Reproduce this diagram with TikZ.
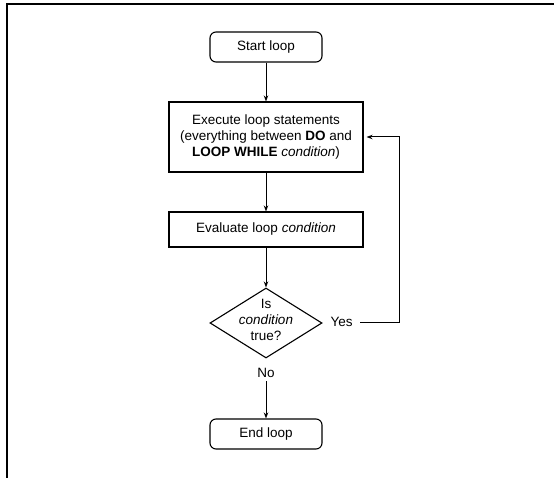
\documentclass[tikz,border=0pt]{standalone}
\usepackage{fontspec}
\setmainfont{Liberation Sans}
\usetikzlibrary{arrows.meta,shapes.geometric,positioning}

\begin{document}
\begin{tikzpicture}[x=1pt,y=-1pt,
  font=\fontsize{13.5}{15.8}\selectfont,
  terminal/.style={draw, line width=1.1pt, rounded corners=6pt, minimum width=112pt, minimum height=30pt, inner sep=0pt},
  process/.style={draw, line width=1.1pt, minimum width=194pt, inner sep=0pt, align=center},
  decision/.style={draw, diamond, line width=1.1pt, minimum width=112pt, minimum height=70pt, inner sep=0pt},
  flow/.style={-{Stealth[length=6pt,width=4.5pt]}, line width=1pt}]
\useasboundingbox (0,0) rectangle (554,478);
% frame
\draw[line width=1.5pt] (7,478) -- (7,4) -- (554,4);
% boxes
\node[terminal] (start) at (266,47) {Start loop};
\node[process, minimum height=70pt] (exec) at (266,137) {Execute loop statements\\(everything between \textbf{DO} and\\\textbf{LOOP WHILE} \textit{condition})};
\node[process, minimum height=35pt] (eval) at (266,229.5) {Evaluate loop \textit{condition}};
\node[decision] (test) at (266,323) {};
\node[align=center, inner sep=0pt] (testtext) at (266,320) {Is\\\textit{condition}\\true?};
\node (no) at (266,373) {No};
\node[anchor=west] (yes) at (327,322) {Yes};
\node[terminal] (end) at (266,434) {End loop};
\coordinate (back) at (399,322);
% connectors
\draw[flow] (start) -- (exec);
\draw[flow] (exec) -- (eval);
\draw[flow] (eval) -- (test);
\draw[flow] (no) -- (end);
\draw[flow, shorten <=4pt, shorten >=3pt] (yes) -- (back) |- (exec.east);
\end{tikzpicture}
\end{document}
